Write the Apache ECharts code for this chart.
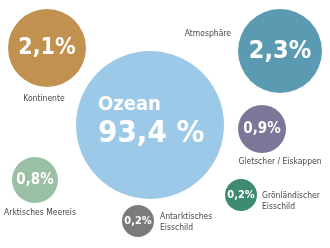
<!DOCTYPE html>
<html><head><meta charset="utf-8">
<script src="https://cdn.jsdelivr.net/npm/echarts@6/dist/echarts.min.js"></script>
<style>html,body{margin:0;padding:0;background:#fff}#c{width:330px;height:248px}</style>
</head><body><div id="c"></div>
<script>
// Data
var names = ['Ozean', 'Atmosphäre', 'Kontinente', 'Gletscher / Eiskappen', 'Arktisches Meereis', 'Antarktisches\nEisschild', 'Grönländischer\nEisschild'];
var shares = [93.4, 2.3, 2.1, 0.9, 0.8, 0.2, 0.2];
var valueLabels = ['93,4 %', '2,3%', '2,1%', '0,9%', '0,8%', '0,2%', '0,2%'];

// Layout (bubble centres in a 330x248 plane, radii in px)
var cx = [150, 280, 47, 262, 35, 138, 241];
var cy = [125, 51, 48, 129, 180, 221, 195];
var radius = [74, 42, 39, 24, 23, 16, 16];
var colors = ['#9dc9e8', '#5b9bb2', '#c0914f', '#7c7698', '#9bbfa4', '#7b7b7b', '#3f8b6f'];
var nameX = [0, 231, 44, 280, 40, 160, 262];
var nameY = [0, 34, 99, 162, 213, 222, 201];
var nameAlign = ['center', 'right', 'center', 'center', 'center', 'left', 'left'];
var valueFont = [0, 25, 23, 15, 15, 11, 11];

var chart = echarts.init(document.getElementById('c'), null, {renderer: 'canvas'});
var NUMF = '"DejaVu Sans Condensed", sans-serif';
var LABF = '"DejaVu Sans Condensed", sans-serif';

var bubbles = names.map(function (n, i) {
  var d = {
    name: n,
    value: [cx[i], cy[i], shares[i]],
    symbolSize: radius[i] * 2,
    itemStyle: {color: colors[i], opacity: 1},
    label: {
      show: true,
      position: 'inside',
      formatter: valueLabels[i],
      color: '#fff',
      fontFamily: NUMF,
      fontWeight: 'bold',
      fontSize: valueFont[i]
    }
  };
  if (i === 0) {
    d.label = {
      show: true,
      position: 'inside',
      align: 'left',
      offset: [-52, -3],
      formatter: '{a|Ozean}\n{b|' + valueLabels[0] + '}',
      rich: {
        a: {color: '#fff', fontFamily: NUMF, fontWeight: 'bold', fontSize: 20, lineHeight: 24},
        b: {color: '#fff', fontFamily: NUMF, fontWeight: 'bold', fontSize: 31, lineHeight: 34}
      }
    };
  }
  return d;
});

var nameLabels = [];
for (var i = 1; i < names.length; i++) {
  nameLabels.push({
    name: names[i],
    value: [nameX[i], nameY[i]],
    label: {
      show: true,
      position: 'inside',
      align: nameAlign[i],
      verticalAlign: 'middle',
      formatter: names[i],
      color: '#111',
      fontFamily: LABF,
      fontSize: 8.5,
      lineHeight: 11
    }
  });
}

chart.setOption({
  animation: false,
  backgroundColor: '#fff',
  grid: {left: 0, right: 0, top: 0, bottom: 0},
  xAxis: {type: 'value', min: 0, max: 330, show: false},
  yAxis: {type: 'value', min: 0, max: 248, inverse: true, show: false},
  series: [
    {type: 'scatter', data: bubbles, symbol: 'circle', silent: true, z: 2, itemStyle: {opacity: 1}},
    {type: 'scatter', data: nameLabels, symbolSize: 0, silent: true, z: 3}
  ]
});
</script></body></html>
